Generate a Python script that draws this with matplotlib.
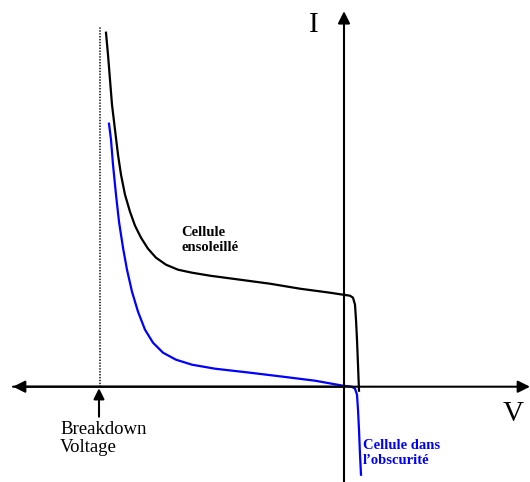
import matplotlib
matplotlib.use("Agg")
import matplotlib.pyplot as plt

# Schematic I-V characteristic (arbitrary units; origin at axes crossing)
sun_v = [-238, -236, -234, -232, -229, -226, -223, -219, -214, -209, -203, -196, -188, -178,
         -166, -152, -134, -104, -74, -44, -14, -1, 6, 9, 11, 12, 13, 14, 15]
sun_i = [354, 332, 307, 282, 257, 232, 212, 192, 175, 161, 149, 138, 129, 122,
         117, 114, 111, 107, 103, 98, 94, 92, 91, 89, 82, 67, 47, 22, -4]

dark_v = [-235, -233, -231, -228, -225, -221, -217, -212, -206, -199, -191, -181, -168,
          -152, -129, -94, -61, -29, -1, 8, 11, 13, 14, 15, 16, 17]
dark_i = [263, 247, 222, 192, 165, 139, 117, 95, 75, 57, 44, 34, 27,
          22, 18, 14, 10, 6, 1, 0, -2, -8, -23, -43, -68, -88]

breakdown_v = -244
labels = {"I": "I", "V": "V"}

plt.rcParams['font.family'] = ['Liberation Serif', 'DejaVu Serif']
fig = plt.figure(figsize=(5.30, 4.82), dpi=100)
ax = fig.add_axes([0, 0, 1, 1])
ax.set_xlim(-344, 186)
ax.set_ylim(-95.3, 386.7)
ax.axis('off')

arrow_kw = dict(arrowstyle='-|>', color='black', lw=1.5, mutation_scale=18,
                shrinkA=0, shrinkB=0)
# axes with arrows
ax.annotate('', xy=(186, 0), xytext=(-331, 0), arrowprops=arrow_kw)
ax.annotate('', xy=(-331, 0), xytext=(0, 0), arrowprops=arrow_kw)
ax.annotate('', xy=(0, 375.5), xytext=(0, -95.3), arrowprops=arrow_kw)

# breakdown dotted line and arrow
ax.plot([breakdown_v, breakdown_v], [0, 360], color='#333333', lw=1.3, ls=(0, (0.8, 0.8)))
ax.annotate('', xy=(breakdown_v - 1, -1.5), xytext=(breakdown_v - 1, -30),
            arrowprops=dict(arrowstyle='-|>', color='black', lw=1.5,
                            mutation_scale=16, shrinkA=0, shrinkB=0))

ax.plot(sun_v, sun_i, color='black', lw=1.6, solid_joinstyle='round')
ax.plot(dark_v, dark_i, color='#0000ff', lw=1.6, solid_joinstyle='round')

ax.text(-35, 362, labels["I"], fontsize=21, ha='left', va='center')
ax.text(159, -27, labels["V"], fontsize=21, ha='left', va='center')
ax.text(-284, -52, "Breakdown\nVoltage", fontsize=13.5, ha='left', va='center',
        linespacing=1.12)
ax.text(-163, 147, "Cellule\nensoleillé", fontsize=10.5, fontweight='bold',
        ha='left', va='center', linespacing=1.2)
ax.text(19, -66, "Cellule dans\nl\u2019obscurité", fontsize=10.5, fontweight='bold',
        color='#0000ff', ha='left', va='center', linespacing=1.2)

fig.savefig('out.png', dpi=100)
